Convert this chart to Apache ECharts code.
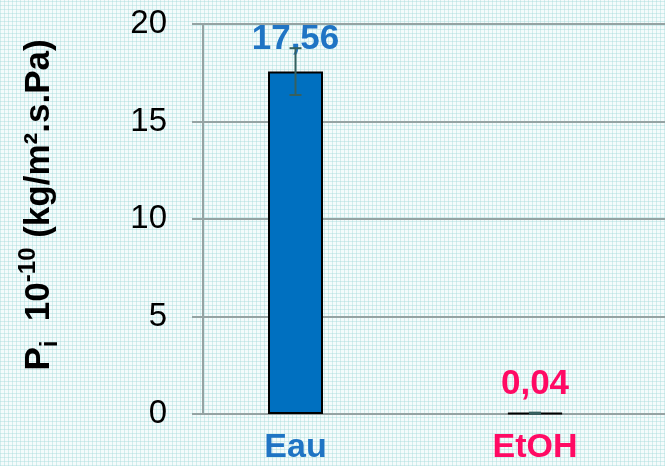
<!DOCTYPE html>
<html>
<head>
<meta charset="utf-8">
<script src="https://cdn.jsdelivr.net/npm/echarts@6/dist/echarts.min.js"></script>
<style>
  html, body { margin: 0; padding: 0; }
  body {
    width: 665px; height: 466px;
    background-color: #f4fbfb;
    background-image:
      repeating-linear-gradient(0deg, rgba(160, 216, 216, 0.4) 0 1px, transparent 1px 4px),
      repeating-linear-gradient(90deg, rgba(160, 216, 216, 0.4) 0 1px, transparent 1px 4px);
  }
  #chart { width: 665px; height: 466px; }
</style>
</head>
<body>
<div id="chart"></div>
<script>
// Permeability of the membrane for each solvent
const categories = ['Eau', 'EtOH'];
const permeability = [17.56, 0.04];
const errors = [1.2, 0.03];
const barColors = ['#0070c0', '#0070c0'];
const labelColors = ['#1f74c4', '#ff0a64'];
const yTicks = { min: 0, max: 20, interval: 5 };

const FONT = 'Liberation Sans, Arial, sans-serif';

const chart = echarts.init(document.getElementById('chart'), null, { renderer: 'canvas' });

const errorData = permeability.map((v, i) => [i, v - errors[i], v + errors[i]]);

const option = {
  backgroundColor: 'transparent',
  animation: false,
  grid: [
    { left: 203, right: 0, top: 24, bottom: 52 },
    { left: 175.75, width: 479, top: 24, bottom: 52 }
  ],
  xAxis: [
    { gridIndex: 0, type: 'value', show: false, min: 0, max: 1 },
    {
      gridIndex: 1, type: 'category', data: categories,
      axisLine: { show: false }, axisTick: { show: false },
      axisLabel: {
        margin: 17,
        fontFamily: FONT, fontSize: 34, fontWeight: 'bold',
        color: (val, idx) => labelColors[categories.indexOf(val)]
      }
    }
  ],
  yAxis: [
    {
      gridIndex: 0, type: 'value',
      min: yTicks.min, max: yTicks.max, interval: yTicks.interval,
      axisLine: { show: true, lineStyle: { color: '#95a3a3', width: 2 } },
      axisTick: { show: true, length: 11, lineStyle: { color: '#95a3a3', width: 2 } },
      splitLine: { show: true, lineStyle: { color: '#95a3a3', width: 2 } },
      axisLabel: { margin: 36, fontFamily: FONT, fontSize: 33, color: '#000' },
      name: '{m|P}{sub|i}{m|  10}{sup|-10}{m| (kg/m².s.Pa)}',
      nameLocation: 'middle',
      nameRotate: 90,
      nameGap: 141,
      nameTextStyle: {
        padding: [0, 0, 0, 28],
        rich: {
          m: { fontFamily: FONT, fontSize: 35, fontWeight: 'bold', color: '#000', lineHeight: 46 },
          sub: { fontFamily: FONT, fontSize: 24, fontWeight: 'bold', color: '#000', lineHeight: 24, verticalAlign: 'bottom' },
          sup: { fontFamily: FONT, fontSize: 24, fontWeight: 'bold', color: '#000', lineHeight: 24, verticalAlign: 'top' }
        }
      }
    },
    {
      gridIndex: 1, type: 'value', show: false,
      min: yTicks.min, max: yTicks.max, interval: yTicks.interval
    }
  ],
  series: [
    {
      type: 'bar',
      xAxisIndex: 1, yAxisIndex: 1,
      barWidth: 55,
      data: permeability.map((v, i) => ({
        value: v,
        itemStyle: { color: barColors[i], borderColor: '#000', borderWidth: 2 },
        label: {
          show: true, position: 'top',
          distance: i === 0 ? 15 : 11,
          formatter: () => String(v.toFixed(2)).replace('.', ','),
          fontFamily: FONT, fontSize: 35, fontWeight: 'bold', color: labelColors[i]
        }
      })),
      z: 2
    },
    {
      type: 'custom',
      xAxisIndex: 1, yAxisIndex: 1,
      data: errorData,
      z: 3,
      renderItem: function (params, api) {
        const x = api.value(0);
        const lo = api.coord([x, api.value(1)]);
        const hi = api.coord([x, api.value(2)]);
        const half = 6;
        const style = { stroke: '#36605f', lineWidth: 2 };
        return {
          type: 'group',
          children: [
            { type: 'line', shape: { x1: lo[0], y1: lo[1], x2: hi[0], y2: hi[1] }, style },
            { type: 'line', shape: { x1: lo[0] - half, y1: lo[1], x2: lo[0] + half, y2: lo[1] }, style },
            { type: 'line', shape: { x1: hi[0] - half, y1: hi[1], x2: hi[0] + half, y2: hi[1] }, style }
          ]
        };
      }
    }
  ]
};

chart.setOption(option);
</script>
</body>
</html>
